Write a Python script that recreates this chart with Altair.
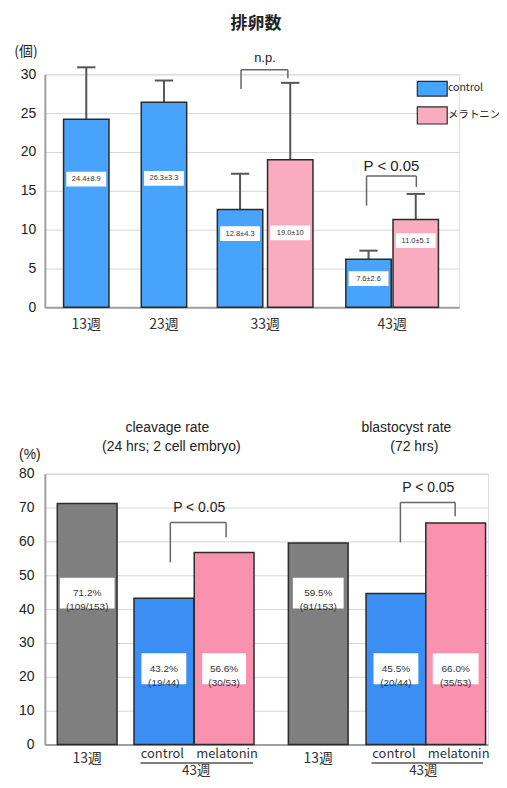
import altair as alt
import pandas as pd

# ---------------- data ----------------
top_weeks = ["13週", "23週", "33週", "33週", "43週", "43週"]
top_groups = ["control", "control", "control", "メラトニン", "control", "メラトニン"]
top_means = [24.2, 26.4, 12.6, 19.0, 6.2, 11.3]
top_err_hi = [30.9, 29.2, 17.2, 28.9, 7.3, 14.6]
top_texts = ["24.4±8.9", "26.3±3.3", "12.8±4.3", "19.0±10", "7.6±2.6", "11.0±5.1"]
top_week_labels = ["13週", "23週", "33週", "43週"]
top_ticks = [0, 5, 10, 15, 20, 25, 30]

bot_panels = ["cleavage", "cleavage", "cleavage", "blastocyst", "blastocyst", "blastocyst"]
bot_groups = ["13週", "control", "melatonin", "13週", "control", "melatonin"]
bot_rates = [71.2, 43.2, 56.7, 59.5, 44.6, 65.4]
bot_pct = ["71.2%", "43.2%", "56.6%", "59.5%", "45.5%", "66.0%"]
bot_counts = ["(109/153)", "(19/44)", "(30/53)", "(91/153)", "(20/44)", "(35/53)"]
bot_ticks = [0, 10, 20, 30, 40, 50, 60, 70, 80]

# ---------------- layout (positions in scale units) ----------------
top_centers = [1.04, 2.99, 4.9, 6.16, 8.125, 9.31]
top_half = 0.57
top_label_y = [16.5, 16.6, 9.5, 9.6, 3.7, 8.6]
top_week_x = [1.04, 2.99, 5.53, 8.72]

bot_centers = [4.25, 11.95, 18.0, 27.45, 35.25, 41.25]
bot_half = 3.0
bot_box_half = [2.75, 2.25, 2.2, 2.55, 2.25, 2.3]
bot_box_y = [44.7, 22.4, 22.4, 44.7, 22.4, 22.4]

LAT = "Liberation Sans"
CJK = "Noto Sans CJK JP"
TW, TH = 416, 234
BW, BH = 445, 272

top_fill = {"control": "#47a3fb", "メラトニン": "#f9abc0"}
bot_fill = {"13週": "#7f7f7f", "control": "#3a8ef4", "melatonin": "#f892af"}

# ---------------- top panel ----------------
tdf = pd.DataFrame({
    "week": top_weeks, "group": top_groups, "mean": top_means, "hi": top_err_hi,
    "txt": top_texts, "c": top_centers, "ly": top_label_y,
})
tdf["fill"] = tdf["group"].map(top_fill)
tdf["x1"] = tdf["c"] - top_half
tdf["x2"] = tdf["c"] + top_half
tdf["cap1"] = tdf["c"] - 0.23
tdf["cap2"] = tdf["c"] + 0.23
tdf["bx1"] = tdf["c"] - 0.5
tdf["bx2"] = tdf["c"] + 0.5
tdf["by1"] = tdf["ly"] - 0.95
tdf["by2"] = tdf["ly"] + 0.95
tdf["zero"] = 0

txs = alt.Scale(domain=[0, 10.4], nice=False, zero=False)
tys = alt.Scale(domain=[0, 30], nice=False)

t_axis_y = alt.Axis(values=top_ticks, tickCount=7, grid=True, gridColor="#d6d6d6",
                    domainColor="#a0a0a0", domainWidth=2, ticks=False, labelPadding=9,
                    labelFontSize=14, labelColor="#222", labelFont=LAT, title=None)
x_axis = alt.Axis(labels=False, ticks=False, grid=False, domainColor="#a0a0a0",
                  domainWidth=2, title=None)


def TX(f):
    return alt.X(f, scale=txs, axis=x_axis)


def TY(f):
    return alt.Y(f, scale=tys, axis=t_axis_y)


tbase = alt.Chart(tdf)
t_err = tbase.mark_rule(color="#555", strokeWidth=2).encode(
    x=TX("c:Q"), y=TY("mean:Q"), y2="hi:Q")
t_cap = tbase.mark_rule(color="#555", strokeWidth=2).encode(
    x=TX("cap1:Q"), x2="cap2:Q", y=TY("hi:Q"))
t_bars = tbase.mark_rect(stroke="#2b2b2b", strokeWidth=1.5).encode(
    x=TX("x1:Q"), x2="x2:Q", y=TY("zero:Q"), y2="mean:Q",
    fill=alt.Fill("fill:N", scale=None))
t_box = tbase.mark_rect(fill="white").encode(
    x=TX("bx1:Q"), x2="bx2:Q", y=TY("by1:Q"), y2="by2:Q")
t_txt = tbase.mark_text(fontSize=7.5, font=LAT, color="#333").encode(
    x=TX("c:Q"), y=TY("ly:Q"), text="txt:N")

twk = pd.DataFrame({"t": top_week_labels, "x": top_week_x, "y": -2.3})
t_wk = alt.Chart(twk).mark_text(fontSize=14, font=CJK, color="#333").encode(
    x=TX("x:Q"), y=TY("y:Q"), text="t:N")

t_brk = pd.DataFrame({
    "x": [4.925, 4.925, 6.1, 8.075, 8.075, 9.325],
    "x2": [4.925, 6.1, 6.1, 8.075, 9.325, 9.325],
    "y": [28.1, 30.6, 30.6, 13.1, 16.9, 16.9],
    "y2": [30.6, 30.6, 29.5, 16.9, 16.9, 15.5],
})
t_br = alt.Chart(t_brk).mark_rule(color="#666", strokeWidth=1.5).encode(
    x=TX("x:Q"), x2="x2:Q", y=TY("y:Q"), y2="y2:Q")

t_np = alt.Chart(pd.DataFrame({"t": ["n.p."], "x": [5.525], "y": [32.05]})).mark_text(
    font=LAT, fontSize=13, color="#222").encode(x=TX("x:Q"), y=TY("y:Q"), text="t:N")
t_p = alt.Chart(pd.DataFrame({"t": ["P < 0.05"], "x": [8.7], "y": [18.2]})).mark_text(
    font=LAT, fontSize=15, color="#222").encode(x=TX("x:Q"), y=TY("y:Q"), text="t:N")
t_title = alt.Chart(pd.DataFrame({"t": ["排卵数"], "x": [5.3], "y": [36.5]})).mark_text(
    font=CJK, fontSize=17, fontWeight="bold", color="#222").encode(
    x=TX("x:Q"), y=TY("y:Q"), text="t:N")
t_unit = alt.Chart(pd.DataFrame({"t": ["(個)"], "x": [-0.475], "y": [32.9]})).mark_text(
    font=CJK, fontSize=14, color="#222").encode(x=TX("x:Q"), y=TY("y:Q"), text="t:N")

t_leg = pd.DataFrame({"g": ["control", "メラトニン"], "y1": [27.2, 23.6], "y2": [29.1, 25.8],
                      "ty": [28.2, 24.7], "x1": 9.35, "x2": 10.1, "tx": 10.12})
t_leg["fill"] = t_leg["g"].map(top_fill)
t_lg_r = alt.Chart(t_leg).mark_rect(stroke="#2b2b2b", strokeWidth=1.2).encode(
    x=TX("x1:Q"), x2="x2:Q", y=TY("y1:Q"), y2="y2:Q", fill=alt.Fill("fill:N", scale=None))
t_lg_t = alt.Chart(t_leg).mark_text(align="left", fontSize=10.5, font=CJK, color="#222").encode(
    x=TX("tx:Q"), y=TY("ty:Q"), text="g:N")

top = alt.layer(t_err, t_cap, t_bars, t_box, t_txt, t_wk, t_br, t_np, t_p, t_title, t_unit,
                t_lg_r, t_lg_t).properties(width=TW, height=TH)

# ---------------- bottom panel ----------------
bdf = pd.DataFrame({
    "panel": bot_panels, "group": bot_groups, "rate": bot_rates,
    "txt": [p + "\n" + c for p, c in zip(bot_pct, bot_counts)],
    "c": bot_centers, "bh": bot_box_half, "ly": bot_box_y,
})
bdf["fill"] = bdf["group"].map(bot_fill)
bdf["x1"] = bdf["c"] - bot_half
bdf["x2"] = bdf["c"] + bot_half
bdf["bx1"] = bdf["c"] - bdf["bh"]
bdf["bx2"] = bdf["c"] + bdf["bh"]
bdf["by1"] = bdf["ly"] - 4.55
bdf["by2"] = bdf["ly"] + 4.55
bdf["zero"] = 0

bxs = alt.Scale(domain=[0, 44.5], nice=False, zero=False)
bys = alt.Scale(domain=[0, 80], nice=False)
b_axis_y = alt.Axis(values=bot_ticks, tickCount=9, grid=True, gridColor="#d6d6d6",
                    domainColor="#a0a0a0", domainWidth=2, ticks=False, labelPadding=11,
                    labelFontSize=14, labelColor="#222", labelFont=LAT, title=None)


def BX(f):
    return alt.X(f, scale=bxs, axis=x_axis)


def BY(f):
    return alt.Y(f, scale=bys, axis=b_axis_y)


bbase = alt.Chart(bdf)
b_bars = bbase.mark_rect(stroke="#2b2b2b", strokeWidth=1.5).encode(
    x=BX("x1:Q"), x2="x2:Q", y=BY("zero:Q"), y2="rate:Q",
    fill=alt.Fill("fill:N", scale=None))
b_box = bbase.mark_rect(fill="white").encode(
    x=BX("bx1:Q"), x2="bx2:Q", y=BY("by1:Q"), y2="by2:Q")
b_txt = bbase.mark_text(fontSize=10, font=LAT, color="#333", lineBreak="\n",
                        lineHeight=14).encode(
    x=BX("c:Q"), y=BY("ly:Q"), text="txt:N")

bwk = pd.DataFrame({
    "t": [bot_groups[0], bot_groups[1], bot_groups[2], bot_groups[3], bot_groups[4],
          bot_groups[5], "43週", "43週"],
    "x": [bot_centers[0], bot_centers[1] - 0.15, bot_centers[2] + 0.3, bot_centers[3],
          bot_centers[4] - 0.2, bot_centers[5] + 0.3, 15.2, 38.0],
    "y": [-4.4, -2.65, -2.65, -4.4, -2.65, -2.65, -7.95, -7.95],
    "s": [14, 13, 13, 14, 13, 13, 13.5, 13.5],
})
b_wk = alt.Chart(bwk).mark_text(font=CJK, color="#333").encode(
    x=BX("x:Q"), y=BY("y:Q"), text="t:N", size=alt.Size("s:Q", scale=None, legend=None))

b_ul = pd.DataFrame({"x": [9.6, 32.8], "x2": [20.9, 44.0], "y": [-5.45, -5.45]})
b_u = alt.Chart(b_ul).mark_rule(color="#555", strokeWidth=1.5).encode(
    x=BX("x:Q"), x2="x2:Q", y=BY("y:Q"))

b_brk = pd.DataFrame({
    "x": [12.6, 12.6, 18.2, 35.7, 35.7, 41.2],
    "x2": [12.6, 18.2, 18.2, 35.7, 41.2, 41.2],
    "y": [53.8, 65.6, 65.6, 59.7, 71.5, 71.5],
    "y2": [65.6, 65.6, 61.2, 71.5, 71.5, 67.4],
})
b_br = alt.Chart(b_brk).mark_rule(color="#666", strokeWidth=1.5).encode(
    x=BX("x:Q"), x2="x2:Q", y=BY("y:Q"), y2="y2:Q")

b_ann = pd.DataFrame({
    "t": ["P < 0.05", "P < 0.05", "cleavage rate", "(24 hrs; 2 cell embryo)",
          "blastocyst rate", "(72 hrs)", "(%)"],
    "x": [15.5, 38.5, 12.3, 12.7, 36.3, 37.1, -1.5],
    "y": [70.0, 75.9, 93.5, 87.9, 93.5, 87.9, 85.6],
})
b_an = alt.Chart(b_ann).mark_text(fontSize=14, font=LAT, color="#222").encode(
    x=BX("x:Q"), y=BY("y:Q"), text="t:N")

bottom = alt.layer(b_bars, b_box, b_txt, b_wk, b_u, b_br, b_an).properties(width=BW, height=BH)

chart = alt.vconcat(top, bottom, spacing=87).properties(
    padding={"left": 5, "top": 4, "right": -2, "bottom": -1}
).configure_view(stroke=None).configure(background="white")

chart.save("out.html", embed_options={"renderer": "svg", "actions": False})
